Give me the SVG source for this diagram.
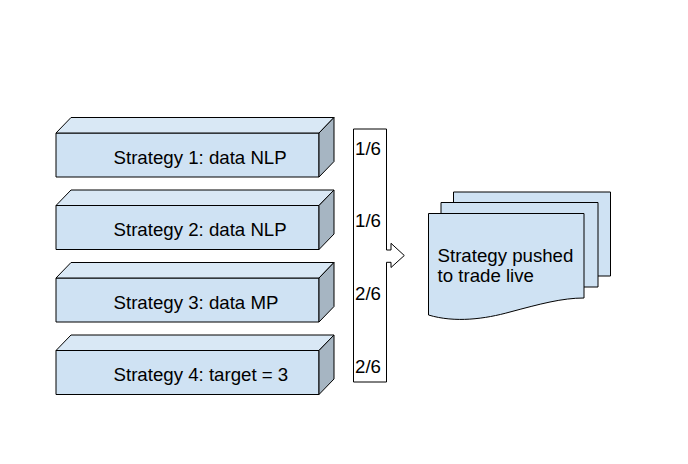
<svg xmlns="http://www.w3.org/2000/svg" width="688" height="464" viewBox="0 0 688 464">
<style>
.face{fill:#cfe2f3;stroke:#000;stroke-width:1;stroke-linejoin:round}
.top{fill:#d9e8f5;stroke:#000;stroke-width:1;stroke-linejoin:round}
.side{fill:#a6b5c2;stroke:#000;stroke-width:1;stroke-linejoin:round}
.lbl{font-family:"Liberation Sans",Arial,sans-serif;font-size:18.67px;fill:#000}
.bar{fill:#fff;stroke:#000;stroke-width:1;stroke-linejoin:miter}
.pagefill{fill:#cfe2f3;stroke:none}
.pageedge{fill:none;stroke:#000;stroke-width:1}
</style>
<defs>
<g id="cube">
<rect class="face" x="56" y="0" width="263" height="44"/>
<polygon class="top" points="56,0 71,-15.5 334,-15.5 319,0"/>
<polygon class="side" points="319,0 334,-15.5 334,28.5 319,44"/>
</g>
</defs>
<rect width="688" height="464" fill="#fff"/>
<g id="strategy1">
<use href="#cube" transform="translate(0,133)"/>
<text class="lbl" x="113.5" y="163.5">Strategy 1: data NLP</text>
</g>
<g id="strategy2">
<use href="#cube" transform="translate(0,205.5)"/>
<text class="lbl" x="113.5" y="236">Strategy 2: data NLP</text>
</g>
<g id="strategy3">
<use href="#cube" transform="translate(0,278)"/>
<text class="lbl" x="113.5" y="308.5">Strategy 3: data MP</text>
</g>
<g id="strategy4">
<use href="#cube" transform="translate(0,350.5)"/>
<text class="lbl" x="113.5" y="381">Strategy 4: target = 3</text>
</g>
<g id="connectors">
<path class="bar" d="M353.5,129 H386.5 V250 H391 V243.3 L404.3,255.5 L391,267.5 V262.3 H386.5 V382 H353.5 Z"/>
<text class="lbl" x="355" y="154.5">1/6</text>
<text class="lbl" x="355" y="227">1/6</text>
<text class="lbl" x="355" y="300">2/6</text>
<text class="lbl" x="355" y="373">2/6</text>
</g>
<g id="docs">
<path class="pagefill" d="M453.5,192 H610.5 V276 H598 V202 H453.5 Z"/>
<path class="pageedge" d="M453.5,202 V192 H610.5 V276 H598"/>
<path class="pagefill" d="M441,202.5 H598 V287 H584 V213 H441 Z"/>
<path class="pageedge" d="M441,213 V202.5 H598 V287 H584"/>
<path class="face" d="M428.5,213.5 H584 V298 C562,298 540,304 510,312 C485,319 455,323 428.5,315 Z"/>
<text class="lbl" x="437.5" y="262">Strategy pushed</text>
<text class="lbl" x="437.5" y="282">to trade live</text>
</g>
</svg>
